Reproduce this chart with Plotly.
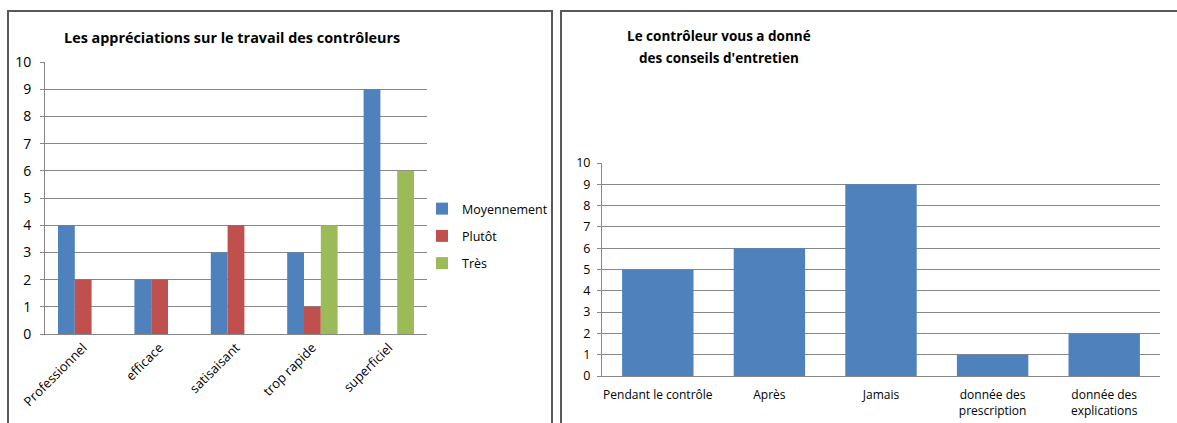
import plotly.graph_objects as go

# left chart data
categories = ["Professionnel", "efficace", "satisaisant", "trop rapide", "superficiel"]
moyennement = [4, 2, 3, 3, 9]
plutot = [2, 2, 4, 1, 0]
tres = [0, 0, 0, 4, 6]

# right chart data
conseils_labels = ["Pendant le contrôle", "Après", "Jamais",
                   "donnée des<br>prescription", "donnée des<br>explications"]
conseils_values = [5, 6, 9, 1, 2]

W, H = 1177, 423
FONT = "Open Sans"
BLUE, RED, GREEN = "#4F81BD", "#C0504D", "#9BBB59"
GRID = "#878787"
BORDER = "#595959"


def px(x):
    return x / W


def py_(y):
    return 1 - y / H


fig = go.Figure()

for name, vals, col in [("Moyennement", moyennement, BLUE),
                        ("Plutôt", plutot, RED),
                        ("Très", tres, GREEN)]:
    fig.add_trace(go.Bar(x=categories, y=vals, name=name, marker_color=col,
                         marker_line_width=0, legendgroup=name,
                         xaxis="x", yaxis="y"))

fig.add_trace(go.Bar(x=conseils_labels, y=conseils_values, marker_color=BLUE,
                     marker_line_width=0, width=0.64, showlegend=False,
                     xaxis="x2", yaxis="y2"))

yax = dict(range=[0, 10], dtick=1, showgrid=True, gridcolor=GRID, gridwidth=1,
           showline=True, linecolor=GRID, ticks="outside", tickcolor=GRID,
           ticklen=4, zeroline=False, automargin=False, fixedrange=True)
xax = dict(showline=True, linecolor=GRID, ticks="", automargin=False,
           showgrid=False, fixedrange=True)

fig.update_layout(
    width=W, height=H,
    margin=dict(l=0, r=0, t=0, b=0),
    paper_bgcolor="white", plot_bgcolor="white",
    font=dict(family=FONT, color="#000000", size=12),
    barmode="group", bargap=0.34, bargroupgap=0,
    xaxis=dict(xax, domain=[px(45), px(427)], tickangle=-45,
               tickfont=dict(size=13), anchor="y"),
    yaxis=dict(yax, domain=[py_(334), py_(62)], tickfont=dict(size=14),
               anchor="x", ticklabelstandoff=6),
    xaxis2=dict(xax, domain=[px(602), px(1160)], tickangle=0,
                tickfont=dict(size=12), anchor="y2", ticklabelstandoff=8),
    yaxis2=dict(yax, domain=[py_(376), py_(163)], tickfont=dict(size=12.5),
                anchor="x2", ticklabelstandoff=4),
    legend=dict(x=px(422), y=py_(194), xanchor="left", yanchor="top",
                font=dict(size=12.5), traceorder="grouped", tracegroupgap=8,
                bgcolor="rgba(0,0,0,0)", itemwidth=30),
    showlegend=True,
)

# panel borders
fig.add_shape(type="rect", xref="paper", yref="paper",
              x0=px(8), x1=px(552), y0=-0.2, y1=py_(11),
              line=dict(color=BORDER, width=2))
fig.add_shape(type="rect", xref="paper", yref="paper",
              x0=px(561), x1=1.2, y0=-0.2, y1=py_(11),
              line=dict(color=BORDER, width=2))

# titles
fig.add_annotation(text="<b>Les appréciations sur le travail des contrôleurs</b>",
                   xref="paper", yref="paper", x=px(232), y=py_(37),
                   xanchor="center", yanchor="middle", showarrow=False,
                   font=dict(size=14.4))
fig.add_annotation(text="<b>Le contrôleur vous a donné</b>",
                   xref="paper", yref="paper", x=px(719), y=py_(36),
                   xanchor="center", yanchor="middle", showarrow=False,
                   font=dict(size=13.5))
fig.add_annotation(text="<b>des conseils d'entretien</b>",
                   xref="paper", yref="paper", x=px(719), y=py_(58),
                   xanchor="center", yanchor="middle", showarrow=False,
                   font=dict(size=13.5))

fig.write_html("out.html", config={"displayModeBar": False},
               post_script="document.body.style.margin='0px';")
